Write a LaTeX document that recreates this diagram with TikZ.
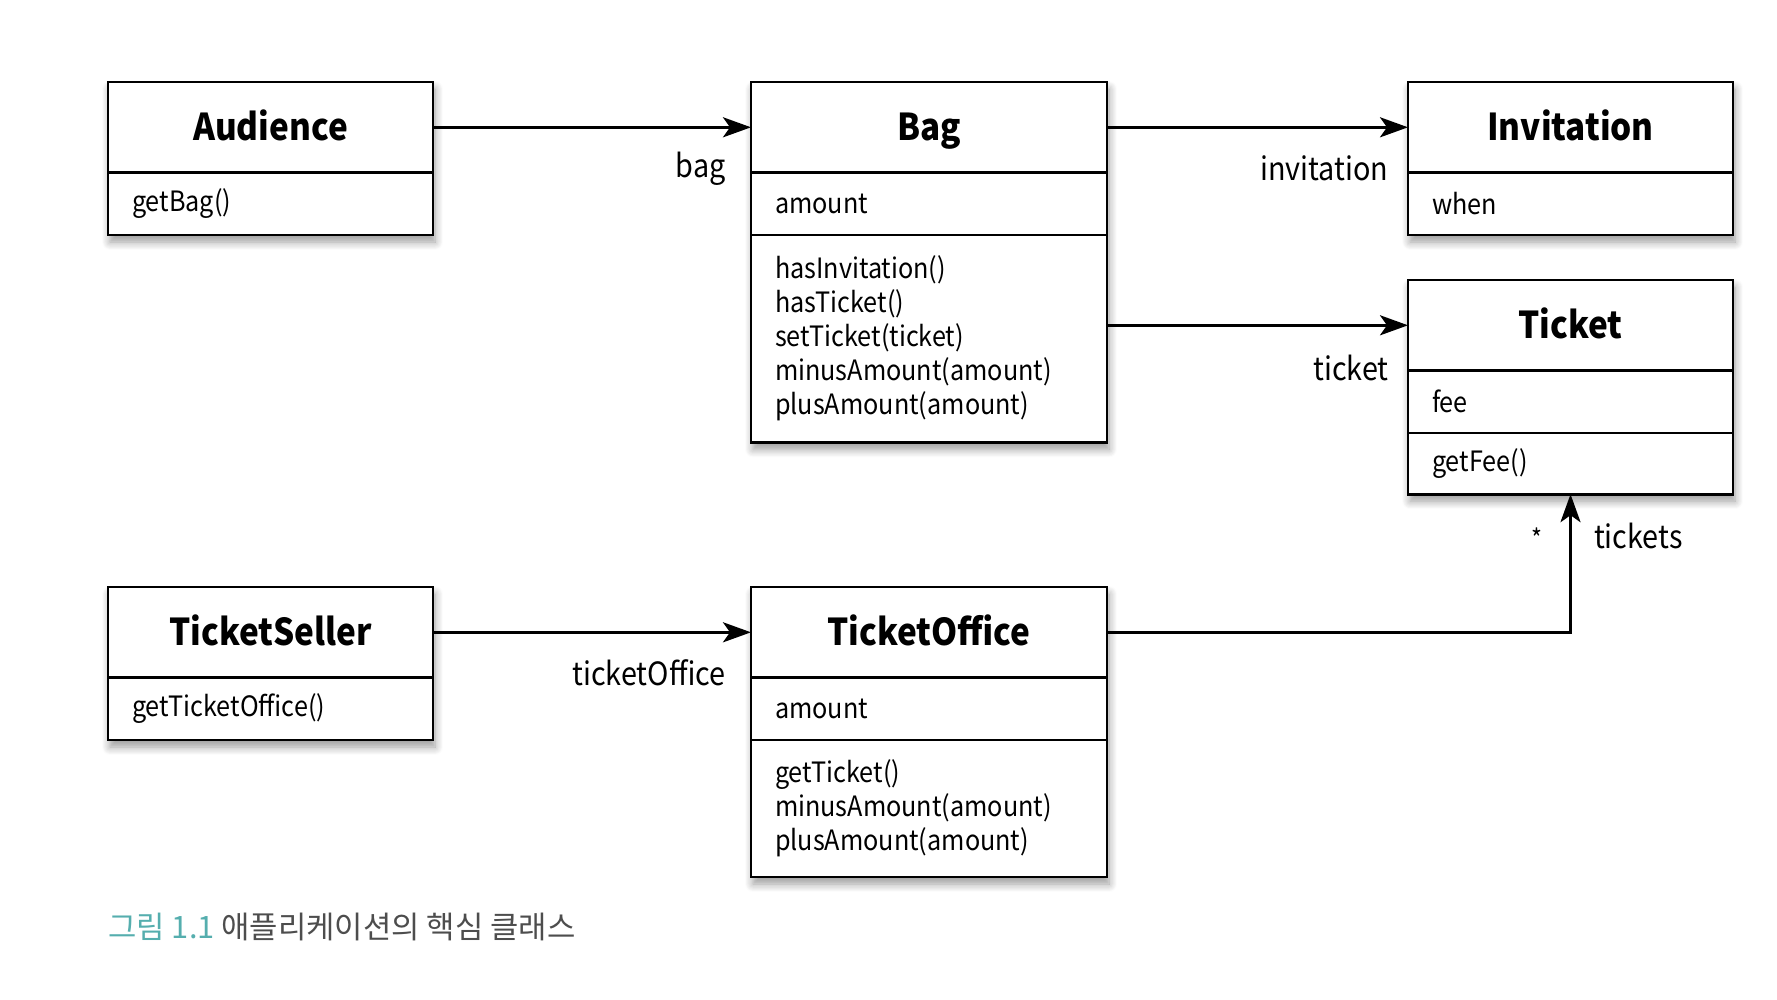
\documentclass[tikz,border=0pt]{standalone}
\usepackage{fontspec}
\setmainfont{Noto Sans CJK KR}[FakeStretch=0.9]
\newfontfamily\capfont{Noto Sans CJK KR}
\usepackage{xcolor}
\usetikzlibrary{arrows.meta,positioning,fit,backgrounds,shadows.blur}
\definecolor{capteal}{HTML}{55AEAE}
\definecolor{capgray}{HTML}{4D4D4D}

\begin{document}
\begin{tikzpicture}[
   x=0.5pt, y=-0.5pt,
   chead/.style={draw, line width=1.3pt, fill=white, outer sep=0pt, inner sep=0pt,
                 minimum width=#1, minimum height=45.3pt, anchor=north west,
                 text height=13pt, text depth=0pt,
                 font=\fontsize{18.5}{21}\selectfont\bfseries},
   cpart/.style 2 args={draw, line width=1.3pt, fill=white, outer sep=0pt,
                 inner xsep=12pt, inner ysep=0pt, text width=#1,
                 minimum height=#2, align=left,
                 font=\fontsize{14}{17}\selectfont},
   cshade/.style={inner sep=0pt, outer sep=0pt, fill=white,
                  blur shadow={shadow xshift=1pt, shadow yshift=-3.5pt,
                               shadow blur steps=8, shadow blur radius=4pt}},
   role/.style={font=\fontsize{16}{19}\selectfont, inner sep=0pt},
   assoc/.style={-{Stealth[length=14pt,width=10pt,inset=3.5pt]}, line width=1.5pt},
   node distance=0pt]
\useasboundingbox (0,0) rectangle (1777,1000);

% classes
\node[chead=162.5pt] (audh) at (108,82) {Audience};
\node[cpart={138.5pt}{31.2pt}, below=of audh] (audm) {getBag()};

\node[chead=178pt] (bagh) at (751,82) {Bag};
\node[cpart={154pt}{31.2pt}, below=of bagh] (baga) {amount};
\node[cpart={154pt}{103.7pt}, below=of baga] (bagm)
  {hasInvitation()\\hasTicket()\\setTicket(ticket)\\minusAmount(amount)\\plusAmount(amount)};

\node[chead=162.5pt] (invh) at (1408,82) {Invitation};
\node[cpart={138.5pt}{31.2pt}, below=of invh] (inva) {when};

\node[chead=162.5pt] (tkth) at (1408,280) {Ticket};
\node[cpart={138.5pt}{31.2pt}, below=of tkth] (tkta) {fee};
\node[cpart={138.5pt}{30.6pt}, below=of tkta] (tktm) {getFee()};

\node[chead=162.5pt] (selh) at (108,587) {TicketSeller};
\node[cpart={138.5pt}{31.2pt}, below=of selh] (selm) {getTicketOffice()};

\node[chead=178pt] (offh) at (751,587) {TicketOffice};
\node[cpart={154pt}{31.2pt}, below=of offh] (offa) {amount};
\node[cpart={154pt}{68.5pt}, below=of offa] (offm)
  {getTicket()\\minusAmount(amount)\\plusAmount(amount)};

% shadows
\begin{scope}[on background layer]
\foreach \a/\b in {audh/audm,bagh/bagm,invh/inva,tkth/tktm,selh/selm,offh/offm}
  \node[cshade, fit=(\a)(\b)] {};
\end{scope}

% associations
\draw[assoc] (audh) -- (bagh)
  node[role, pos=1, anchor=base east, xshift=-12pt, yshift=-25pt] {bag};
\draw[assoc] (bagh) -- (invh)
  node[role, pos=1, anchor=base east, xshift=-9pt, yshift=-26.5pt] {invitation};
\draw[assoc] (bagm.east |- tkth) -- (tkth)
  node[role, pos=1, anchor=base east, xshift=-9pt, yshift=-27.5pt] {ticket};
\draw[assoc] (selh) -- (offh)
  node[role, pos=1, anchor=base east, xshift=-12pt, yshift=-26.5pt] {ticketOffice};
\draw[assoc] (offh.east) -| (tktm.south)
  node[role, pos=1, anchor=base west, xshift=11pt, yshift=-27pt] {tickets}
  node[pos=1, inner sep=0pt, font=\fontsize{13}{15}\selectfont,
       xshift=-17pt, yshift=-22pt] {*};

% caption
\node[anchor=west, inner sep=0pt, font=\capfont\fontsize{15.4}{18}\selectfont] (cap) at (108,927)
  {\textcolor{capteal}{그림 1.1}\ \textcolor{capgray}{애플리케이션의 핵심 클래스}};
\end{tikzpicture}
\end{document}
